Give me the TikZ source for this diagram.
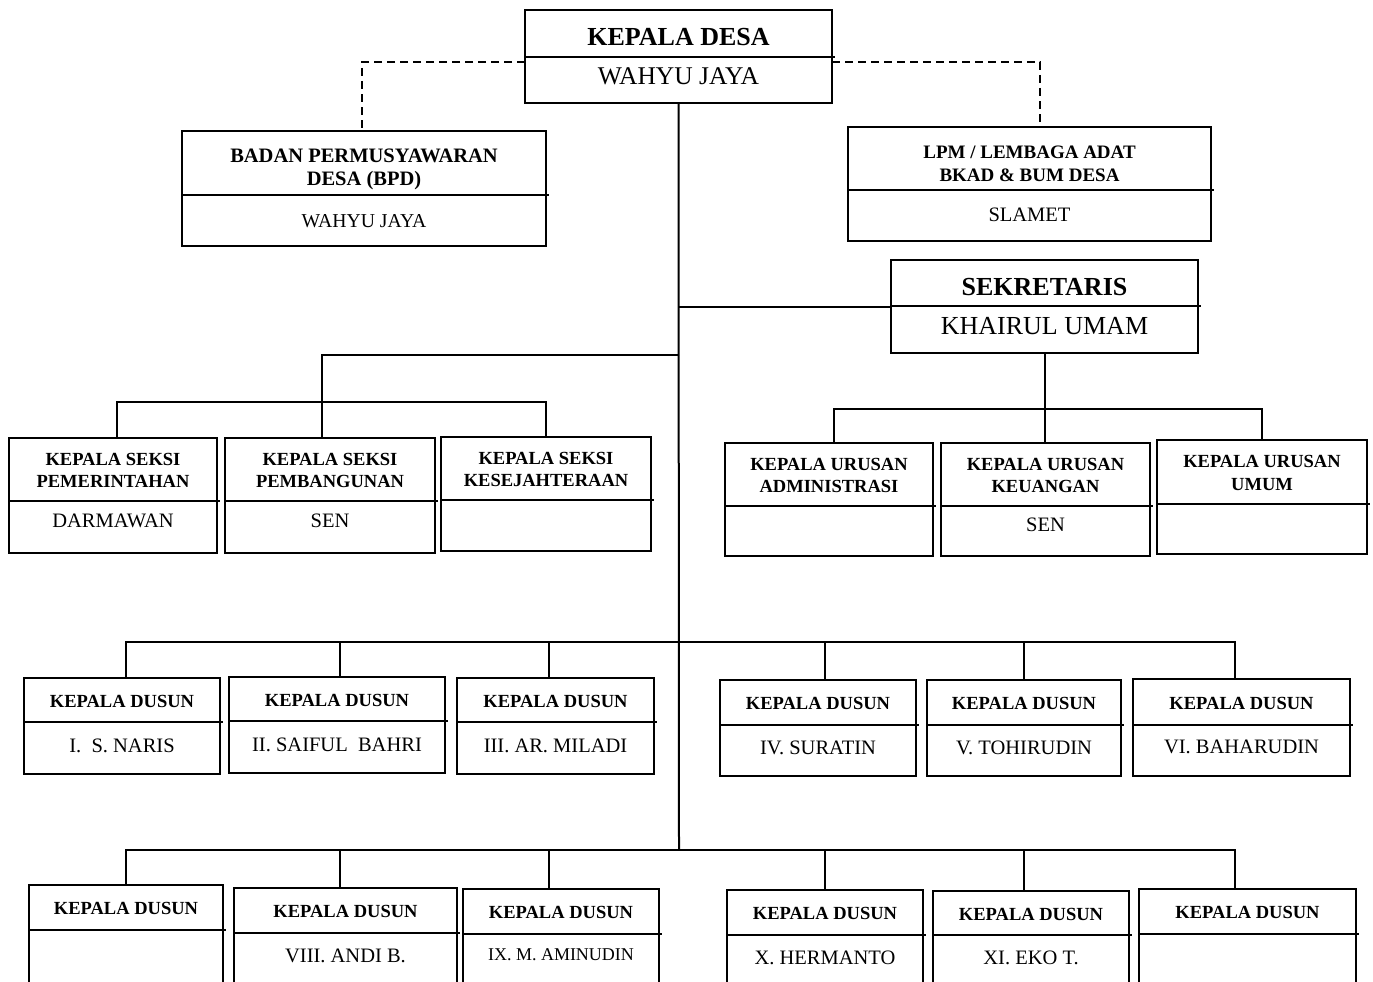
\documentclass[tikz,border=0pt]{standalone}
\usepackage{fontspec}
\setmainfont{Liberation Serif}

\newcommand{\headtitle}{\fontsize{26}{30}\selectfont\bfseries}
\newcommand{\headname}{\fontsize{25.5}{30}\selectfont}
\newcommand{\boardtitle}{\fontsize{20.5}{23}\selectfont\bfseries}
\newcommand{\bodytitle}{\fontsize{18.5}{22.5}\selectfont\bfseries}
\newcommand{\bodyname}{\fontsize{20.5}{24}\selectfont}

% box with a title part and a name part
% #1 name, #2-#5 corners, #6 divider, #7 title, #8 person, #9 person y
\newcommand{\orgunit}[9]{%
  \node[unitbox, minimum width={#4-#2}, minimum height={#5-#3}] (#1) at ({(#2+#4)/2},{(#3+#5)/2}) {};
  \draw[link] (#2,#6) -- ({#4+3},#6);
  \node[unittext] (#1-title) at ({(#2+#4)/2},{(#3+#6)/2+1}) {#7};
  \node[unittext] (#1-name) at ({(#2+#4)/2},#9) {#8};
}

\tikzset{
  unitbox/.style={draw, line width=2pt, inner sep=0pt, outer sep=0pt},
  unittext/.style={align=center, inner sep=0pt, font={\fontsize{19}{22.5}\selectfont}},
  link/.style={line width=2pt},
  adlink/.style={line width=1.7pt, dash pattern=on 8pt off 5pt},
}

\begin{document}
\begin{tikzpicture}[x=1pt,y=-1pt]
            \useasboundingbox (0,0) rectangle (1373,982);
            \fill[white] (0,0) rectangle (1373,982);
            % top
            \orgunit{kades}{525}{10}{832}{103}{57}{\headtitle\rule{0pt}{23pt}KEPALA DESA}{\headname WAHYU JAYA}{76}
            \orgunit{bpd}{182}{131}{546}{246}{195}{\boardtitle\rule{0pt}{24pt}BADAN PERMUSYAWARAN\\ \boardtitle DESA (BPD)}{\fontsize{19.7}{24}\selectfont WAHYU JAYA}{221}
            \orgunit{lpm}{848}{127}{1211}{241}{190}{\fontsize{19}{23}\selectfont\bfseries\rule{0pt}{21pt}LPM / LEMBAGA ADAT\\ \fontsize{19}{23}\selectfont\bfseries BKAD \& BUM DESA}{\fontsize{20.5}{24}\selectfont SLAMET}{215}
            \orgunit{sek}{891}{260}{1198}{353}{306}{\headtitle\rule{0pt}{23pt}SEKRETARIS}{\fontsize{26}{30}\selectfont KHAIRUL UMAM}{326}
            % seksi
            \orgunit{s1}{9}{438}{217}{553}{501}{\bodytitle KEPALA SEKSI\\ \bodytitle PEMERINTAHAN}{\bodyname DARMAWAN}{521}
            \orgunit{s2}{225}{438}{435}{553}{501}{\bodytitle KEPALA SEKSI\\ \bodytitle PEMBANGUNAN}{\bodyname SEN}{521}
            \orgunit{s3}{441}{437}{651}{551}{500}{\bodytitle KEPALA SEKSI\\ \bodytitle KESEJAHTERAAN}{}{520}
            % urusan
            \orgunit{u1}{725}{443}{933}{556}{506}{\bodytitle KEPALA URUSAN\\ \bodytitle ADMINISTRASI}{}{525}
            \orgunit{u2}{941}{443}{1150}{556}{506}{\bodytitle KEPALA URUSAN\\ \bodytitle KEUANGAN}{\bodyname SEN}{525}
            \orgunit{u3}{1157}{440}{1367}{554}{504}{\bodytitle KEPALA URUSAN\\ \bodytitle UMUM}{}{523}
            % dusun I - VI
            \orgunit{d1}{24}{678}{220}{774}{722}{\bodytitle KEPALA DUSUN}{\bodyname I.~~S. NARIS}{746}
            \orgunit{d2}{229}{677}{445}{773}{721}{\bodytitle KEPALA DUSUN}{\bodyname II. SAIFUL~~BAHRI}{745}
            \orgunit{d3}{457}{678}{654}{774}{722}{\bodytitle KEPALA DUSUN}{\bodyname III. AR. MILADI}{746}
            \orgunit{d4}{720}{680}{916}{776}{725}{\bodytitle KEPALA DUSUN}{\bodyname IV. SURATIN}{748}
            \orgunit{d5}{927}{680}{1121}{776}{725}{\bodytitle KEPALA DUSUN}{\bodyname V. TOHIRUDIN}{748}
            \orgunit{d6}{1133}{679}{1350}{776}{725}{\bodytitle KEPALA DUSUN}{\bodyname VI. BAHARUDIN}{747}
            % dusun VII - XII
            \orgunit{d7}{29}{885}{223}{1000}{930}{\bodytitle KEPALA DUSUN}{}{956}
            \orgunit{d8}{234}{888}{457}{1000}{933}{\bodytitle KEPALA DUSUN}{\bodyname VIII. ANDI B.}{956}
            \orgunit{d9}{463}{889}{659}{1000}{934}{\bodytitle KEPALA DUSUN}{\fontsize{18}{22}\selectfont IX. M. AMINUDIN}{955}
            \orgunit{d10}{727}{890}{923}{1000}{935}{\bodytitle KEPALA DUSUN}{\bodyname X. HERMANTO}{958}
            \orgunit{d11}{933}{891}{1129}{1000}{935}{\bodytitle KEPALA DUSUN}{\bodyname XI. EKO T.}{958}
            \orgunit{d12}{1139}{889}{1356}{1000}{934}{\bodytitle KEPALA DUSUN}{}{958}
            % bus points
            \coordinate (sbus) at (679,355);
            \coordinate (sbus2) at (322,402);
            \coordinate (ubus) at (1045,409);
            \coordinate (dbus1) at (679,642);
            \coordinate (dbus2) at (679,850);
            % lines
            \draw[adlink] ([yshift=-5.5pt]kades.west) -| ([xshift=-2pt]bpd.north);
            \draw[adlink] ([yshift=-5.5pt]kades.east) -| ([xshift=10.5pt]lpm.north);
            \draw[link] (kades.south) -- (dbus2);
            \draw[link] (sek.west) -- (sek.west -| kades.south);
            \draw[link] (sbus) -| ([xshift=-8pt]s2.north);
            \draw[link] ([xshift=4pt]s1.north) |- (sbus2) -| (s3.north);
            \draw[link] (sek.south) -- (sek.south |- u2.north);
            \draw[link] ([xshift=5pt]u1.north) |- (ubus) -| (u3.north);
            \draw[link] ([xshift=4pt]d1.north) |- (dbus1) -| ([xshift=-6.5pt]d6.north);
            \draw[link] ([xshift=3pt]d2.north) -- ([xshift=3pt]d2.north |- dbus1);
            \draw[link] ([xshift=-6.5pt]d3.north) -- ([xshift=-6.5pt]d3.north |- dbus1);
            \draw[link] ([xshift=7pt]d4.north) -- ([xshift=7pt]d4.north |- dbus1);
            \draw[link] (d5.north) -- (d5.north |- dbus1);
            \draw[link] (d7.north) |- (dbus2) -| ([xshift=-12.5pt]d12.north);
            \draw[link] ([xshift=-5.5pt]d8.north) -- ([xshift=-5.5pt]d8.north |- dbus2);
            \draw[link] ([xshift=-12pt]d9.north) -- ([xshift=-12pt]d9.north |- dbus2);
            \draw[link] (d10.north) -- (d10.north |- dbus2);
            \draw[link] ([xshift=-7pt]d11.north) -- ([xshift=-7pt]d11.north |- dbus2);
        \end{tikzpicture}
\end{document}
